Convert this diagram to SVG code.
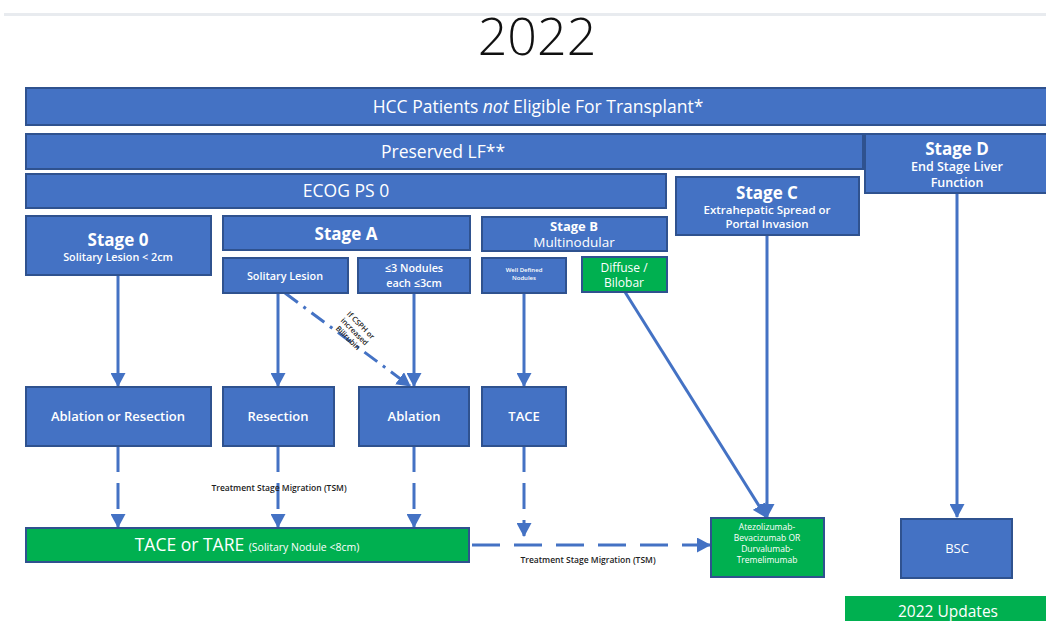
<svg xmlns="http://www.w3.org/2000/svg" width="1046" height="621" viewBox="0 0 1046 621">
<defs>
<style>
.b{fill:#4472C4;stroke:#2F528F;stroke-width:2}
.g{fill:#00B050;stroke:#2F528F;stroke-width:2}
text{font-family:"Open Sans","Noto Sans","Liberation Sans",sans-serif;fill:#FFFFFF;text-anchor:middle}
.t15{font-size:17.5px}
.h{font-size:17px;font-weight:700}
.s{font-size:10.8px;font-weight:600}
.m{font-size:13px;font-weight:600}
.c{stroke:#4472C4;stroke-width:3;fill:none}
.d{stroke-dasharray:26 11}
.lbl{fill:#222222;font-size:8.5px;font-weight:600}
.rl{fill:#222222;font-size:7.5px;font-weight:600}
</style>
<marker id="ah" markerUnits="userSpaceOnUse" markerWidth="15" markerHeight="15" refX="13" refY="7.5" orient="auto" viewBox="0 0 15 15">
<path d="M0,0 L14,7.5 L0,15 z" fill="#4472C4"/>
</marker>
</defs>
<rect x="0" y="0" width="1046" height="621" fill="#FFFFFF"/>
<rect x="4" y="13" width="1042" height="3" fill="#E8EBEF"/>
<text x="537" y="55" style="font-size:52px;font-weight:300;fill:#111111">2022</text>

<g id="connectors">
<line class="c" x1="118" y1="275" x2="118" y2="386" marker-end="url(#ah)"/>
<line class="c" x1="278" y1="293" x2="278" y2="386" marker-end="url(#ah)"/>
<line class="c" x1="414" y1="293" x2="414" y2="386" marker-end="url(#ah)"/>
<line class="c" x1="524" y1="293" x2="524" y2="386" marker-end="url(#ah)"/>
<line class="c" x1="285" y1="293" x2="410" y2="386" style="stroke-dasharray:16 7 3 7" marker-end="url(#ah)"/>
<line class="c" x1="625" y1="292" x2="766" y2="517" marker-end="url(#ah)"/>
<line class="c" x1="767" y1="235" x2="767" y2="517" marker-end="url(#ah)"/>
<line class="c" x1="957" y1="193" x2="957" y2="517" marker-end="url(#ah)"/>
<line class="c d" x1="118" y1="446" x2="118" y2="527" marker-end="url(#ah)"/>
<line class="c d" x1="278" y1="446" x2="278" y2="527" marker-end="url(#ah)"/>
<line class="c d" x1="414" y1="446" x2="414" y2="527" marker-end="url(#ah)"/>
<line class="c d" x1="524" y1="446" x2="524" y2="536" marker-end="url(#ah)"/>
<line class="c" x1="472" y1="545" x2="710" y2="545" style="stroke-dasharray:28 14" marker-end="url(#ah)"/>
<text class="lbl" x="279" y="491">Treatment Stage Migration (TSM)</text>
<text class="lbl" x="588" y="563">Treatment Stage Migration (TSM)</text>
<g transform="translate(354,332) rotate(45)">
<text class="rl" x="0" y="-7">If CSPH or</text>
<text class="rl" x="0" y="2">increased</text>
<text class="rl" x="0" y="11">Bilirubin</text>
</g>
</g>

<g id="hcc"><rect class="b" x="26" y="88" width="1025" height="37"/>
<text class="t15" x="538" y="113">HCC Patients <tspan font-style="italic">not</tspan> Eligible For Transplant*</text></g>
<g id="preserved"><rect class="b" x="26" y="134" width="837" height="35"/>
<text class="t15" x="443" y="158">Preserved LF**</text></g>
<g id="stageD"><rect class="b" x="865" y="134" width="186" height="59"/>
<text x="957" y="155" style="font-size:17px;font-weight:700">Stage D</text>
<text x="957" y="171" style="font-size:12.5px;font-weight:600">End Stage Liver</text>
<text x="957" y="187" style="font-size:12.5px;font-weight:600">Function</text></g>
<g id="ecog"><rect class="b" x="26" y="174" width="640" height="34"/>
<text class="t15" x="346" y="197">ECOG PS 0</text></g>
<g id="stageC"><rect class="b" x="676" y="177" width="183" height="58"/>
<text class="h" x="767" y="199">Stage C</text>
<text style="font-size:11.5px;font-weight:600" x="767" y="214">Extrahepatic Spread or</text>
<text style="font-size:11.5px;font-weight:600" x="767" y="228">Portal Invasion</text></g>
<g id="stage0"><rect class="b" x="26" y="216" width="185" height="59"/>
<text class="h" x="118" y="246">Stage 0</text>
<text class="s" x="118" y="261">Solitary Lesion &lt; 2cm</text></g>
<g id="stageA"><rect class="b" x="223" y="216" width="247" height="34"/>
<text class="h" x="346" y="240">Stage A</text></g>
<g id="stageB"><rect class="b" x="482" y="217" width="185" height="34"/>
<text x="574" y="231" style="font-size:13px;font-weight:700">Stage B</text>
<text x="574" y="247" style="font-size:13.5px">Multinodular</text></g>
<g id="solitary"><rect class="b" x="223" y="258" width="125" height="35"/>
<text class="s" x="285" y="280">Solitary Lesion</text></g>
<g id="nodules"><rect class="b" x="358" y="258" width="112" height="35"/>
<text class="s" x="414" y="272">≤3 Nodules</text>
<text class="s" x="414" y="287">each ≤3cm</text></g>
<g id="welldefined"><rect class="b" x="482" y="258" width="84" height="35"/>
<text x="524" y="272" style="font-size:6px;font-weight:600">Well Defined</text>
<text x="524" y="280" style="font-size:6px;font-weight:600">Nodules</text></g>
<g id="diffuse"><rect class="g" x="582" y="257" width="85" height="35"/>
<text x="624" y="272" style="font-size:12px">Diffuse /</text>
<text x="624" y="287" style="font-size:12px">Bilobar</text></g>
<g id="ablres"><rect class="b" x="26" y="387" width="185" height="59"/>
<text class="m" x="118" y="421">Ablation or Resection</text></g>
<g id="resection"><rect class="b" x="223" y="387" width="111" height="59"/>
<text class="m" x="278" y="421">Resection</text></g>
<g id="ablation"><rect class="b" x="359" y="387" width="110" height="59"/>
<text class="m" x="414" y="421">Ablation</text></g>
<g id="tace"><rect class="b" x="482" y="387" width="84" height="59"/>
<text class="m" x="524" y="421">TACE</text></g>
<g id="tacetare"><rect class="g" x="26" y="528" width="443" height="34"/>
<text x="247" y="551" style="font-size:17.5px">TACE or TARE <tspan style="font-size:10.5px">(Solitary Nodule &lt;8cm)</tspan></text></g>
<g id="atezo"><rect class="g" x="711" y="518" width="113" height="59"/>
<text x="767" y="530" style="font-size:8.5px">Atezolizumab-</text>
<text x="767" y="541" style="font-size:8.5px">Bevacizumab OR</text>
<text x="767" y="552" style="font-size:8.5px">Durvalumab-</text>
<text x="767" y="563" style="font-size:8.5px">Tremelimumab</text></g>
<g id="bsc"><rect class="b" x="901" y="519" width="111" height="59"/>
<text x="957" y="553" style="font-size:13px">BSC</text></g>
<g id="updates"><rect fill="#00B050" x="845" y="596" width="206" height="30"/>
<text x="948" y="617" style="font-size:15.5px">2022 Updates</text></g>
</svg>
